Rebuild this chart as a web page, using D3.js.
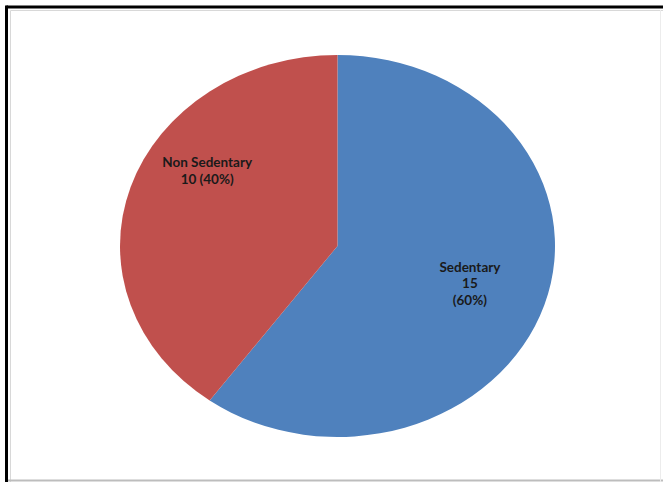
<!DOCTYPE html>
<html>
<head>
<meta charset="utf-8">
<script src="https://cdn.jsdelivr.net/npm/d3@7"></script>
<style>
  html, body { margin: 0; padding: 0; background: #fff; }
  svg { display: block; }
</style>
</head>
<body>
<svg id="chart" width="663" height="482"></svg>
<script>
// Activity groups and their counts
const categories = ["Sedentary", "Non Sedentary"];
const counts = [15, 10];
const percents = [60, 40];
const labelLines = [["Sedentary", "15", "(60%)"], ["Non Sedentary", "10 (40%)"]];
const colors = ["#4F81BD", "#C0504D"];

const W = 663, H = 482;
const svg = d3.select("#chart");

// Outer frame: dark top/left edge, light inner lines
svg.append("rect").attr("x", 0).attr("y", 0).attr("width", W).attr("height", H).attr("fill", "#fff");
svg.append("line").attr("x1", 6.5).attr("y1", 7).attr("x2", W).attr("y2", 7)
  .attr("stroke", "#000").attr("stroke-width", 3);
svg.append("line").attr("x1", 6.5).attr("y1", 5.5).attr("x2", 6.5).attr("y2", H)
  .attr("stroke", "#000").attr("stroke-width", 3);
svg.append("line").attr("x1", 10.5).attr("y1", 10.5).attr("x2", W).attr("y2", 10.5)
  .attr("stroke", "#d8d8d8").attr("stroke-width", 1);
svg.append("line").attr("x1", 10.5).attr("y1", 10.5).attr("x2", 10.5).attr("y2", H)
  .attr("stroke", "#d8d8d8").attr("stroke-width", 1);
svg.append("line").attr("x1", 8).attr("y1", 480.5).attr("x2", W).attr("y2", 480.5)
  .attr("stroke", "#bdbdbd").attr("stroke-width", 2);
svg.append("line").attr("x1", 660.5).attr("y1", 10).attr("x2", 660.5).attr("y2", H)
  .attr("stroke", "#ececec").attr("stroke-width", 1);

// Pie is drawn as a circle and stretched into an ellipse
const cx = 337.5, cy = 246, rx = 217.5, ry = 191;
const pie = d3.pie().sort(null).value(d => d)(counts);
const arc = d3.arc().innerRadius(0).outerRadius(ry);

svg.append("g")
  .attr("transform", `translate(${cx},${cy}) scale(${rx / ry},1)`)
  .selectAll("path")
  .data(pie)
  .join("path")
  .attr("d", arc)
  .attr("fill", (d, i) => colors[i]);

// Label anchors: radial fraction and vertical nudge per slice
const labelLayout = [{ f: 0.64, dy: 0 }, { f: 0.63, dy: -38 }];

pie.forEach((d, i) => {
  const mid = (d.startAngle + d.endAngle) / 2;
  const L = labelLayout[i];
  const x = cx + rx * L.f * Math.sin(mid);
  const y = cy - ry * L.f * Math.cos(mid) + L.dy;
  const lines = labelLines[i];
  const lh = 16.5;
  const t = svg.append("text")
    .attr("text-anchor", "middle")
    .attr("font-family", "Lato, 'Open Sans', sans-serif")
    .attr("font-weight", "bold")
    .attr("font-size", 13.5)
    .attr("fill", "#1a1a1a");
  lines.forEach((s, k) => {
    t.append("tspan")
      .attr("x", x)
      .attr("y", y + (k - (lines.length - 1) / 2) * lh + 4.5)
      .text(s);
  });
});
</script>
</body>
</html>
